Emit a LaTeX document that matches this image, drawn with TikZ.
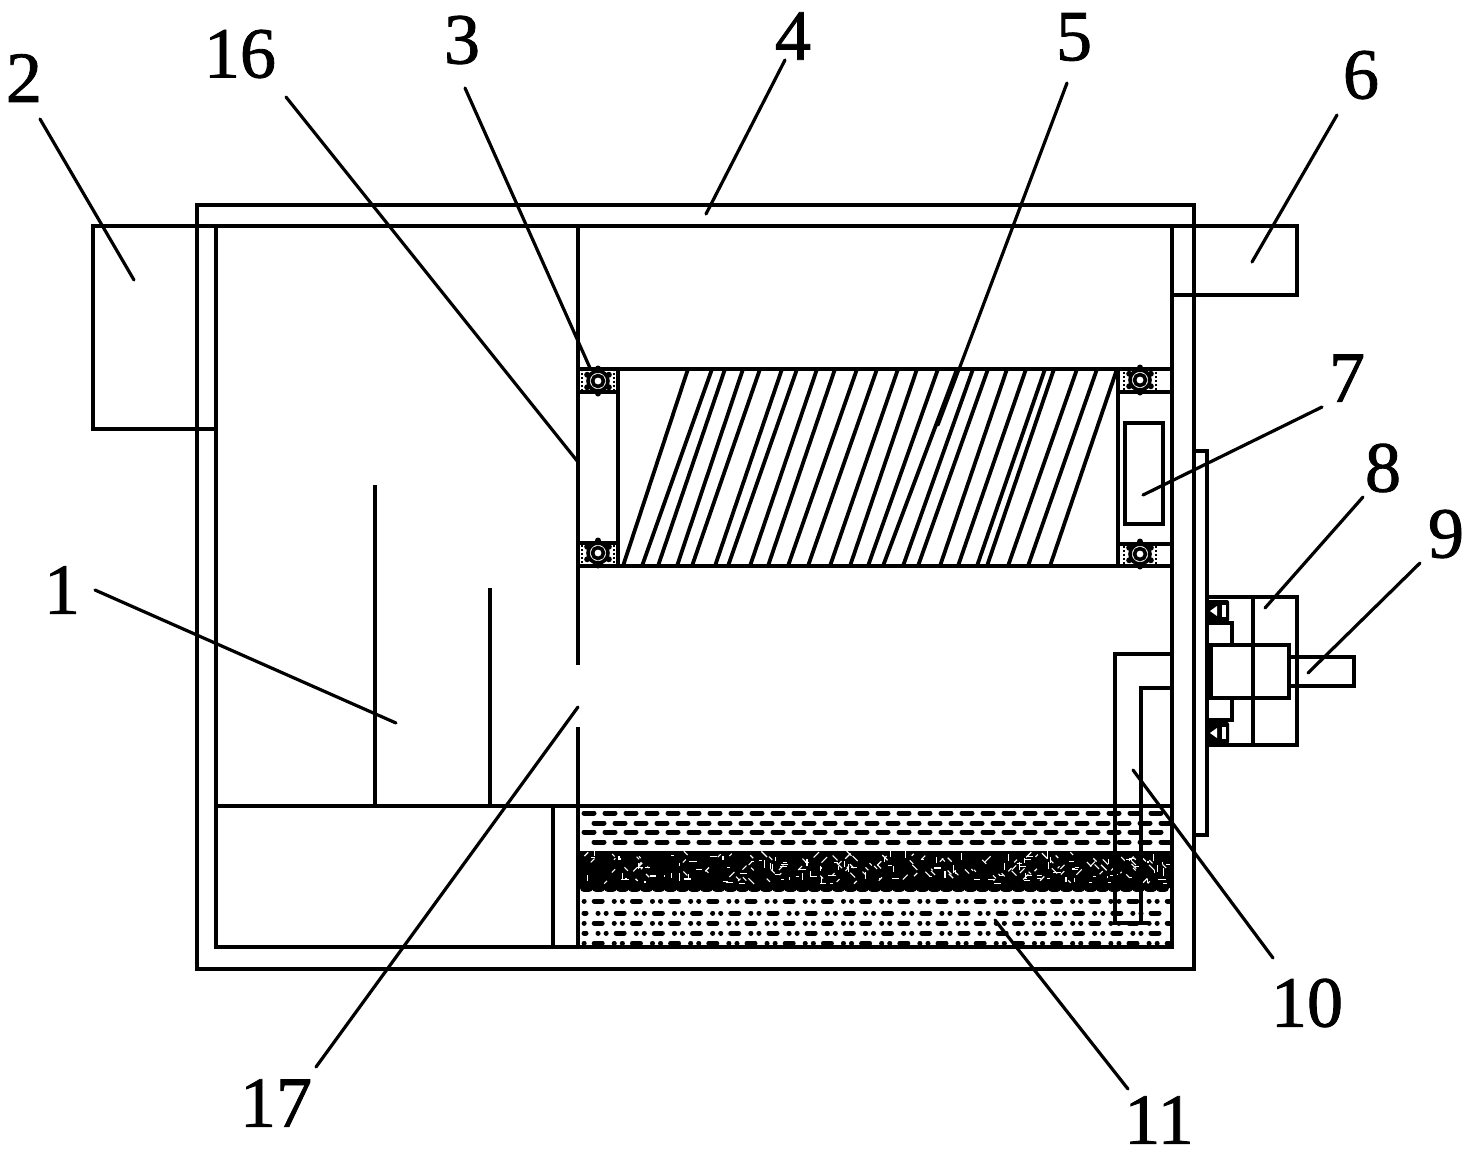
\documentclass[tikz,border=0pt]{standalone}
\usepackage{fontspec}
\setmainfont{Liberation Serif}
\newfontfamily\labfont[FakeBold=1.2]{Liberation Serif}
\tikzset{
  ln/.style={line width=4pt,line cap=butt,line join=miter},
  helixln/.style={line width=3.8pt},
  leader/.style={line width=3.2pt,line cap=round},
  lab/.style={inner sep=0pt,font=\labfont\fontsize{72}{72}\selectfont},
  lqa/.style={line width=5pt,line cap=round,dash pattern=on 10pt off 11pt},
  lqb/.style={line width=5pt,line cap=round,dash pattern=on 8pt off 12pt on 0.1pt off 8pt on 0.1pt off 10pt},
  specka/.style={line width=1.1pt,white}
}
\newcommand{\brg}[1]{%
  \draw[line width=3.6pt] (#1) circle[radius=10pt];
  \draw[line width=3.6pt] (#1) circle[radius=5.5pt];
  \foreach \ang in {90,150,210,270,330,30}
    \fill (#1) ++(\ang:12.5pt) circle[radius=3pt];
  \draw[line width=2pt,dotted] ([xshift=-16pt,yshift=-10pt]#1) -- ([xshift=-16pt,yshift=10pt]#1);
  \draw[line width=2pt,dotted] ([xshift=16pt,yshift=-10pt]#1) -- ([xshift=16pt,yshift=10pt]#1);
}
\newcommand{\smallbrg}[1]{%
  \fill[rounded corners=2pt] ([xshift=-11pt,yshift=-11pt]#1) rectangle ([xshift=11pt,yshift=11pt]#1);
  \fill[white] ([xshift=-8pt]#1) -- ([xshift=-1pt,yshift=5pt]#1) -- ([xshift=-1pt,yshift=-5pt]#1) -- cycle;
  \fill[white] ([xshift=4pt,yshift=-6pt]#1) rectangle ([xshift=8pt,yshift=6pt]#1);
}
\begin{document}
\begin{tikzpicture}[x=1pt,y=-1pt]
\useasboundingbox (0,0) rectangle (1471,1152);
\fill[white] (0,0) rectangle (1471,1152);

% liquid
\foreach \y/\ph in {813/0,823/11,832/0,842/11}
  \draw[lqa,dash phase=\ph pt] (584,\y) -- (1170,\y);
\foreach \y/\ph in {901/28,913/6,923/28,933/6,943/28}
  \draw[lqb,dash phase=\ph pt] (584,\y) -- (1170,\y);
\fill (580,851) rectangle (1171,888);
\draw[line width=8pt,line cap=round,dash pattern=on 5pt off 7pt] (584,888) -- (1168,888);
\pgfmathsetseed{4711}
\foreach \i in {1,...,260}{
  \pgfmathsetmacro{\xa}{582+rnd*586}
  \pgfmathsetmacro{\ya}{855+rnd*29}
  \pgfmathsetmacro{\an}{int(rnd*4)*45}
  \pgfmathsetmacro{\le}{2+rnd*6}
  \draw[specka] (\xa,\ya) -- ++(\an:\le pt);
}

% outer and inner walls
\draw[ln] (197,205) rectangle (1194,969);
\draw[ln] (216,226) rectangle (1172,947);

% inlet box 2 and outlet box 6
\draw[ln] (216,226) -- (93,226) -- (93,429) -- (216,429);
\draw[ln] (1172,226) -- (1297,226) -- (1297,295) -- (1172,295);

% partition
\draw[ln] (578,226) -- (578,665);
\draw[ln] (578,727) -- (578,947);
\draw[ln] (553,806) -- (553,947);
\draw[ln] (216,806) -- (1172,806);
\draw[ln] (375,485) -- (375,806);
\draw[ln] (490,588) -- (490,806);

% roller
\draw[ln] (578,369) -- (1172,369);
\draw[ln] (578,566) -- (1172,566);
\draw[ln] (618,369) -- (618,566);
\draw[ln] (578,392) -- (618,392);
\draw[ln] (578,543) -- (618,543);
\draw[ln] (1118,369) -- (1118,566);
\draw[ln] (1118,392) -- (1172,392);
\draw[ln] (1118,544) -- (1172,544);
\draw[ln] (1125,423) rectangle (1163,524);
\foreach \a/\b in {688/623,712/642,725/658,743/677,760/692,782/715,797/728,817/750,835/768,857/788,877/808,898/830,917/850,938/868,957/883,973/903,988/918,1007/940,1026/958,1045/977,1054/987,1077/1008,1097/1028,1117/1050}
  \draw[helixln] (\a,369) -- (\b,566);

% bearings
\coordinate (b1) at (598,381);
\coordinate (b2) at (598,553);
\coordinate (b3) at (1140,380);
\coordinate (b4) at (1140,554);
\coordinate (b5) at (1218,611);
\coordinate (b6) at (1218,733);
\brg{b1} \brg{b2} \brg{b3} \brg{b4}
\smallbrg{b5} \smallbrg{b6}

% side plate
\draw[ln] (1194,451) -- (1207,451) -- (1207,835) -- (1194,835);

% motor 8
\draw[ln] (1207,597) -- (1297,597) -- (1297,745) -- (1207,745);
\draw[ln] (1253,597) -- (1253,745);
\draw[ln] (1210,645) rectangle (1289,698);
\draw[line width=5pt] (1210,645) -- (1210,698);
\draw[ln] (1207,623) -- (1232,623) -- (1232,645);
\draw[ln] (1207,720) -- (1232,720) -- (1232,698);
% shaft 9
\draw[ln] (1289,657) -- (1354,657) -- (1354,686) -- (1289,686);

% pipe 10
\draw[ln] (1172,654) -- (1115,654) -- (1115,923) -- (1148,923);
\draw[ln] (1172,688) -- (1141,688) -- (1141,923);

% labels
\node[lab] (n2) at (24,78) {2};
\node[lab] (n16) at (240,54) {16};
\node[lab] (n3) at (462,40) {3};
\node[lab] (n4) at (793,36) {4};
\node[lab] (n5) at (1074,37) {5};
\node[lab] (n6) at (1361,75) {6};
\node[lab] (n7) at (1347,378) {7};
\node[lab] (n8) at (1383,468) {8};
\node[lab] (n9) at (1446,534) {9};
\node[lab] (n1) at (62,590) {1};
\node[lab] (n10) at (1307,1003) {10};
\node[lab] (n11) at (1159,1120) {11};
\node[lab] (n17) at (276,1103) {17};

% leaders
\foreach \nm/\xa/\ya/\xb/\yb in {
  a2/40/119/134/280,
  a16/286/97/578/462,
  a3/465/88/590/368,
  a4/785/60/706/214,
  a5/1067/83/938/425,
  a6/1337/115/1252/262,
  a7/1322/407/1143/495,
  a8/1363/497/1265/608,
  a9/1420/563/1308/673,
  a1/95/590/396/723,
  a10/1273/958/1133/770,
  a11/1128/1089/995/920,
  a17/316/1067/578/707}{
  \coordinate (\nm s) at (\xa,\ya);
  \coordinate (\nm e) at (\xb,\yb);
  \draw[leader] (\nm s) -- (\nm e);
}
\end{tikzpicture}
\end{document}
